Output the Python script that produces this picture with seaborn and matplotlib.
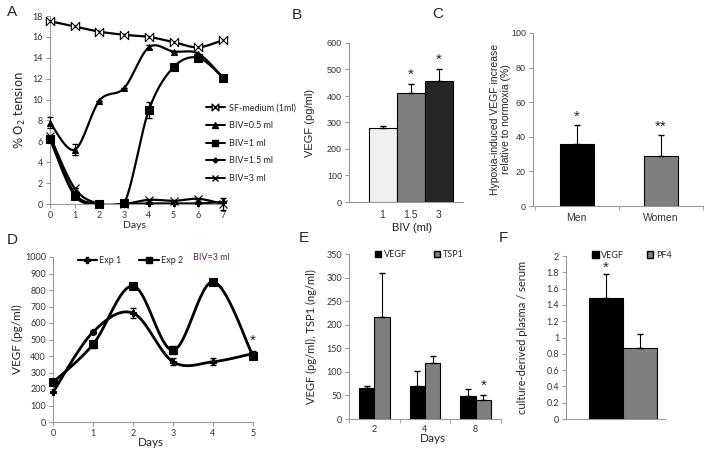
import numpy as np
import pandas as pd
import matplotlib
matplotlib.use('Agg')
import matplotlib.pyplot as plt
import seaborn as sns
from matplotlib.lines import Line2D
from matplotlib.patches import Patch
from matplotlib.path import Path

# ---- data ----
# A: O2 tension over days
days_a = [0, 1, 2, 3, 4, 5, 6, 7]
o2_sf = [17.5, 17.0, 16.5, 16.2, 16.0, 15.5, 15.0, 15.7]
o2_05 = [7.8, 5.2, 9.9, 11.1, 15.0, 14.6, 14.4, 12.1]
o2_05_err = [0.5, 0.5, 0, 0, 0.2, 0, 0, 0]
o2_1 = [6.2, 0.8, 0.0, 0.05, 9.0, 13.1, 14.0, 12.1]
o2_1_err = [0.2, 0, 0, 0, 0.8, 0, 0.3, 0]
o2_15 = [6.3, 1.0, 0.0, 0.0, 0.05, 0.05, 0.05, 0.2]
o2_3 = [6.5, 1.5, 0.0, 0.0, 0.4, 0.3, 0.5, 0.0]
o2_3_err = [0, 0, 0, 0, 0, 0, 0, 0.6]
labels_a = ['SF-medium (1ml)', 'BIV=0.5 ml', 'BIV=1 ml', 'BIV=1.5 ml', 'BIV=3 ml']

# B: VEGF by BIV volume
biv = ['1', '1.5', '3']
vegf_b = [280, 410, 455]
vegf_b_err = [8, 35, 45]

# C: hypoxia-induced increase
sex = ['Men', 'Women']
hyp = [36, 29]
hyp_err = [11, 12]

# D: VEGF time course
days_d = [0, 1, 2, 3, 4, 5]
exp1 = [180, 545, 660, 365, 365, 415]
exp1_err = [0, 10, 30, 20, 20, 15]
exp2 = [240, 470, 825, 435, 850, 400]
exp2_err = [0, 20, 10, 25, 10, 0]

# E: VEGF / TSP1
days_e = ['2', '4', '8']
vegf_e = [65, 70, 49]
vegf_e_err = [5, 32, 15]
tsp1 = [217, 119, 41]
tsp1_err = [92, 15, 9]

# F: ratio
ratio_names = ['VEGF', 'PF4']
ratio = [1.48, 0.87]
ratio_err = [0.3, 0.17]

sns.set_style('ticks')
plt.rcParams['font.family'] = ['Lato', 'DejaVu Sans']
GRAY = '#9a9a9a'
W, H = 710, 465


def box(l, t, r, b):
    return [l / W, 1 - b / H, (r - l) / W, (b - t) / H]


def style(ax, font=None):
    sns.despine(ax=ax)
    for s in ('left', 'bottom'):
        ax.spines[s].set_color(GRAY)
        ax.spines[s].set_linewidth(0.8)
    ax.tick_params(colors=GRAY, labelcolor='#333333', labelsize=6.5, length=3, width=0.8, pad=2)
    if font:
        for t in ax.get_xticklabels() + ax.get_yticklabels():
            t.set_family(font)


def star(ax, x, y, s='*'):
    ax.text(x, y, s, ha='center', va='center', fontsize=11, family='Liberation Sans')


def smooth(x, y, n=24):
    # excel-like smoothed line through the points (Catmull-Rom as bezier)
    p = np.column_stack([x, y]).astype(float)
    pp = np.vstack([p[:1], p, p[-1:]])
    t = np.linspace(0, 1, n)[:, None]
    seg = []
    for i in range(len(p) - 1):
        p0, p3 = pp[i + 1], pp[i + 2]
        c1 = p0 + (pp[i + 2] - pp[i]) / 6
        c2 = p3 - (pp[i + 3] - pp[i + 1]) / 6
        seg.append((1 - t) ** 3 * p0 + 3 * (1 - t) ** 2 * t * c1 + 3 * (1 - t) * t ** 2 * c2 + t ** 3 * p3)
    s = np.vstack(seg)
    return s[:, 0], s[:, 1]


def curve(ax, x, y, err, marker, ms, mfc='black', lw=1.6):
    sx, sy = smooth(x, y)
    sns.lineplot(x=sx, y=sy, ax=ax, color='black', lw=lw, sort=False, estimator=None)
    ax.errorbar(x, y, yerr=err, fmt='none', ecolor='black', elinewidth=0.8, capsize=2, clip_on=False, zorder=3)
    ax.plot(x, y, ls='none', marker=marker, ms=ms, mfc=mfc, mec='black', mew=0.8, clip_on=False, zorder=4)


bowtie = Path([(-1, -1), (1, 1), (1, -1), (-1, 1), (-1, -1)],
              [Path.MOVETO, Path.LINETO, Path.LINETO, Path.LINETO, Path.CLOSEPOLY])

fig = plt.figure(figsize=(7.1, 4.65), dpi=100)

# ---------------- A ----------------
ax = fig.add_axes(box(50, 16, 223, 204))
specs = [(o2_sf, [0] * 8, bowtie, 6, 'white'),
         (o2_05, o2_05_err, '^', 5, 'black'),
         (o2_1, o2_1_err, 's', 6, 'black'),
         (o2_15, [0] * 8, 'P', 4, 'black'),
         (o2_3, o2_3_err, 'x', 6, 'black')]
handles = []
for (vals, err, m, ms, fc), lab in zip(specs, labels_a):
    curve(ax, days_a, vals, err, m, ms, fc)
    handles.append(Line2D([], [], color='black', lw=1.4, marker=m, ms=ms * 0.8, mfc=fc, mec='black', label=lab))
ax.set_xlim(0, 7)
ax.set_ylim(0, 18)
ax.set_xticks(days_a)
ax.set_yticks(range(0, 19, 2))
style(ax)
ax.set_xlabel('Days', fontsize=7.5)
ax.xaxis.set_label_coords(0.49, -0.09)
ax.set_ylabel('% O$_2$ tension', fontsize=8.5, family='DejaVu Sans')
ax.yaxis.set_label_coords(-0.13, 0.5)
fig.legend(handles=handles, loc='upper left', bbox_to_anchor=(201 / W, 1 - 99 / H), frameon=False,
           fontsize=6.5, handlelength=2.2, handletextpad=0.4, labelspacing=0.95, borderpad=0)

# ---------------- B ----------------
ax = fig.add_axes(box(349, 43, 463, 202))
sns.barplot(x=biv, y=vegf_b, hue=biv, palette=['#f0f0f0', '#7f7f7f', '#262626'], width=1.0,
            edgecolor='black', linewidth=0.8, legend=False, ax=ax)
ax.errorbar(range(3), vegf_b, yerr=[[0] * 3, vegf_b_err], fmt='none', ecolor='black', elinewidth=0.8, capsize=2)
star(ax, 1, 480)
star(ax, 2, 536)
ax.set_xlim(-1.2, 2.87)
ax.set_ylim(0, 600)
ax.set_yticks(range(0, 601, 100))
style(ax, 'Liberation Sans')
ax.tick_params(axis='x', length=0, pad=6, labelsize=7.5)
ax.set_xlabel('BIV (ml)', fontsize=8, family='Liberation Sans', color='#222222')
ax.xaxis.set_label_coords(0.55, -0.13)
ax.set_ylabel('VEGF (pg/ml)', fontsize=8, family='Liberation Sans')
ax.yaxis.set_label_coords(-0.3, 0.5)

# ---------------- C ----------------
ax = fig.add_axes(box(533, 33, 703, 206))
sns.barplot(x=sex, y=hyp, hue=sex, palette=['black', '#7f7f7f'], width=0.4,
            edgecolor='black', linewidth=0.8, legend=False, ax=ax)
ax.errorbar(range(2), hyp, yerr=[[0] * 2, hyp_err], fmt='none', ecolor='black', elinewidth=0.8, capsize=2)
star(ax, 0, 51.5)
star(ax, 1, 45.8, '**')
ax.set_xlim(-0.52, 1.5)
ax.set_ylim(0, 100)
ax.set_yticks(range(0, 101, 20))
ax.set_xticks([0, 1], sex)
ax.set_xticks([-0.5, 0.5, 1.5], minor=True)
style(ax, 'Liberation Sans')
ax.tick_params(axis='x', which='major', length=0, pad=5, labelsize=7.5)
ax.tick_params(axis='x', which='minor', colors=GRAY, length=3)
ax.set_ylabel('Hypoxia-induced VEGF increase\nrelative to normoxia (%)', fontsize=7.5,
              family='Liberation Sans', linespacing=1.1)
ax.yaxis.set_label_coords(-0.13, 0.5)

# ---------------- D ----------------
ax = fig.add_axes(box(53, 257, 253, 422))
curve(ax, days_d, exp1, exp1_err, 'P', 4, lw=2.0)
curve(ax, days_d, exp2, exp2_err, 's', 6, lw=2.0)
star(ax, 5, 490)
ax.set_xlim(0, 5)
ax.set_ylim(0, 1000)
ax.set_xticks(days_d)
ax.set_yticks(range(0, 1001, 100))
style(ax)
ax.set_xlabel('Days', fontsize=8.5)
ax.xaxis.set_label_coords(0.49, -0.09)
ax.set_ylabel('VEGF (pg/ml)', fontsize=8.5)
ax.yaxis.set_label_coords(-0.15, 0.5)
hd = [Line2D([], [], color='black', lw=1.6, marker='P', ms=4, label='Exp 1'),
      Line2D([], [], color='black', lw=1.6, marker='s', ms=5, label='Exp 2')]
ax.legend(handles=hd, loc='upper left', bbox_to_anchor=(0.1, 1.035), ncol=2, frameon=False,
          fontsize=6.5, handlelength=2.2, handletextpad=0.2, columnspacing=2.0, borderpad=0)
ax.text(0.7, 1.0, 'BIV=3 ml', transform=ax.transAxes, fontsize=6.5, color='#502a50', va='center')

# ---------------- E ----------------
ax = fig.add_axes(box(349, 254, 501, 419))
df_e = pd.DataFrame({'day': days_e * 2, 'val': vegf_e + tsp1,
                     'series': ['VEGF'] * 3 + ['TSP1'] * 3})
sns.barplot(data=df_e, x='day', y='val', hue='series', palette=['black', '#7f7f7f'], width=0.6,
            edgecolor='black', linewidth=0.8, legend=False, ax=ax)
xs = np.arange(3)
ax.errorbar(xs - 0.15, vegf_e, yerr=[[0] * 3, vegf_e_err], fmt='none', ecolor='black', elinewidth=0.8, capsize=2)
ax.errorbar(xs + 0.15, tsp1, yerr=[[0] * 3, tsp1_err], fmt='none', ecolor='black', elinewidth=0.8, capsize=2)
star(ax, 2.15, 70)
ax.set_xlim(-0.5, 2.5)
ax.set_ylim(0, 350)
ax.set_yticks(range(0, 351, 50))
ax.set_xticks(xs, days_e)
ax.set_xticks([-0.5, 0.5, 1.5, 2.5], minor=True)
style(ax)
ax.tick_params(axis='x', which='major', length=0, pad=4)
ax.tick_params(axis='x', which='minor', colors=GRAY, length=3)
ax.set_xlabel('Days', fontsize=8.5)
ax.xaxis.set_label_coords(0.55, -0.085)
ax.set_ylabel('VEGF (pg/ml), TSP1 (ng/ml)', fontsize=8)
ax.yaxis.set_label_coords(-0.21, 0.5)
he = [Patch(facecolor='black', edgecolor='black', label='VEGF'),
      Patch(facecolor='#7f7f7f', edgecolor='black', label='TSP1')]
ax.legend(handles=he, loc='upper left', bbox_to_anchor=(0.14, 1.05), ncol=2, frameon=False, fontsize=6.5,
          handlelength=0.7, handleheight=0.7, handletextpad=0.3, columnspacing=3.0, borderpad=0)

# ---------------- F ----------------
ax = fig.add_axes(box(566, 256, 665, 419))
sns.barplot(x=[''] * 2, y=ratio, hue=ratio_names, palette=['black', '#7f7f7f'], width=0.8,
            edgecolor='black', linewidth=0.8, legend=False, ax=ax)
ax.errorbar([-0.2, 0.2], ratio, yerr=[[0] * 2, ratio_err], fmt='none', ecolor='black', elinewidth=0.8, capsize=2)
star(ax, -0.2, 1.86)
ax.set_xlim(-0.67, 0.49)
ax.set_ylim(0, 2)
ax.set_yticks(np.round(np.arange(0, 2.01, 0.2), 1))
ax.set_yticklabels(['0', '0.2', '0.4', '0.6', '0.8', '1', '1.2', '1.4', '1.6', '1.8', '2'])
ax.set_xticks([])
style(ax)
ax.set_ylabel('culture-derived plasma / serum', fontsize=8)
ax.yaxis.set_label_coords(-0.38, 0.5)
hf = [Patch(facecolor='black', edgecolor='black', label='VEGF'),
      Patch(facecolor='#7f7f7f', edgecolor='black', label='PF4')]
ax.legend(handles=hf, loc='upper left', bbox_to_anchor=(0.22, 1.06), ncol=2, frameon=False, fontsize=6.5,
          handlelength=0.7, handleheight=0.7, handletextpad=0.3, columnspacing=2.5, borderpad=0)

# panel letters
for lab, x, y in [('A', 12, 12), ('B', 297, 15), ('C', 438, 14), ('D', 12, 240), ('E', 304, 238), ('F', 503, 238)]:
    fig.text(x / W, 1 - y / H, lab, fontsize=11, family='Liberation Sans', ha='center', va='center')

fig.savefig('out.png', dpi=100)
